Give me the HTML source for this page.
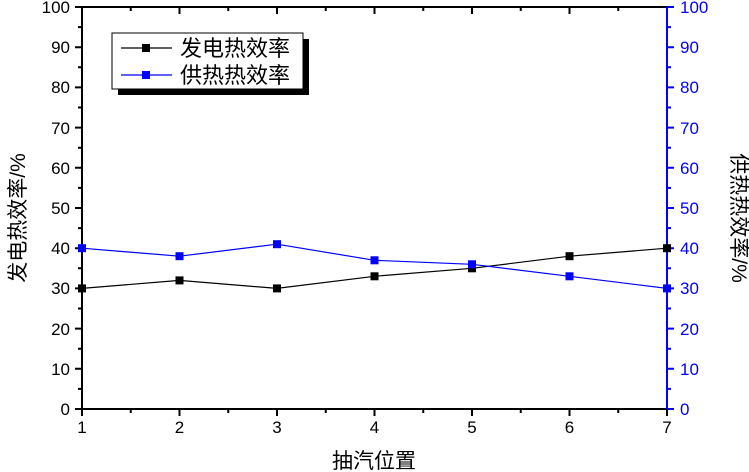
<!DOCTYPE html>
<html><head><meta charset="utf-8"><style>body{margin:0;background:#fff}svg{display:block}text{font-family:"Liberation Sans",Arial,sans-serif}.c{font-family:"Liberation Sans","Noto Sans CJK SC",sans-serif}</style></head><body>
<svg width="749" height="472" xmlns="http://www.w3.org/2000/svg">
<g stroke-width="2" fill="none">
<path stroke="#000" d="M82 7V409M82 7H667M82 409H667
M75 409H82M75 368.8H82M75 328.6H82M75 288.4H82M75 248.2H82M75 208H82M75 167.8H82M75 127.6H82M75 87.4H82M75 47.2H82M75 7H82
M78 388.9H82M78 348.7H82M78 308.5H82M78 268.3H82M78 228.1H82M78 187.9H82M78 147.7H82M78 107.5H82M78 67.3H82M78 27.1H82
M82 409V416M179.5 409V416M277 409V416M374.5 409V416M472 409V416M569.5 409V416M667 409V416
M130.75 409V413M228.25 409V413M325.75 409V413M423.25 409V413M520.75 409V413M618.25 409V413
M179.5 7V14M277 7V14M374.5 7V14M472 7V14M569.5 7V14
M130.75 7V11M228.25 7V11M325.75 7V11M423.25 7V11M520.75 7V11M618.25 7V11"/>
<path stroke="#00f" d="M667 7V409
M667 409H674M667 368.8H674M667 328.6H674M667 288.4H674M667 248.2H674M667 208H674M667 167.8H674M667 127.6H674M667 87.4H674M667 47.2H674M667 7H674
M667 388.9H671M667 348.7H671M667 308.5H671M667 268.3H671M667 228.1H671M667 187.9H671M667 147.7H671M667 107.5H671M667 67.3H671M667 27.1H671"/>
</g>
<g font-size="17" text-anchor="end">
<text x="70" y="415">0</text><text x="70" y="375">10</text><text x="70" y="335">20</text><text x="70" y="294">30</text><text x="70" y="254">40</text><text x="70" y="214">50</text><text x="70" y="174">60</text><text x="70" y="134">70</text><text x="70" y="93">80</text><text x="70" y="53">90</text><text x="70" y="13">100</text>
</g>
<g font-size="17" fill="#00f">
<text x="680" y="415">0</text><text x="680" y="375">10</text><text x="680" y="335">20</text><text x="680" y="294">30</text><text x="680" y="254">40</text><text x="680" y="214">50</text><text x="680" y="174">60</text><text x="680" y="134">70</text><text x="680" y="93">80</text><text x="680" y="53">90</text><text x="680" y="13">100</text>
</g>
<g font-size="17" text-anchor="middle">
<text x="82" y="433">1</text><text x="179.5" y="433">2</text><text x="277" y="433">3</text><text x="374.5" y="433">4</text><text x="472" y="433">5</text><text x="569.5" y="433">6</text><text x="667" y="433">7</text>
</g>
<polyline points="82,288.4 179.5,280.4 277,288.4 374.5,276.3 472,268.3 569.5,256.2 667,248.2" fill="none" stroke="#000" stroke-width="1.2"/>
<g fill="#000"><rect x="78" y="284.4" width="8" height="8"/><rect x="175.5" y="276.4" width="8" height="8"/><rect x="273" y="284.4" width="8" height="8"/><rect x="370.5" y="272.3" width="8" height="8"/><rect x="468" y="264.3" width="8" height="8"/><rect x="565.5" y="252.2" width="8" height="8"/><rect x="663" y="244.2" width="8" height="8"/></g>
<polyline points="82,248.2 179.5,256.2 277,244.2 374.5,260.3 472,264.3 569.5,276.3 667,288.4" fill="none" stroke="#00f" stroke-width="1.2"/>
<g fill="#00f"><rect x="78" y="244.2" width="8" height="8"/><rect x="175.5" y="252.2" width="8" height="8"/><rect x="273" y="240.2" width="8" height="8"/><rect x="370.5" y="256.3" width="8" height="8"/><rect x="468" y="260.3" width="8" height="8"/><rect x="565.5" y="272.3" width="8" height="8"/><rect x="663" y="284.4" width="8" height="8"/></g>
<rect x="118" y="39" width="191" height="56" fill="#000"/>
<rect x="112" y="33" width="191" height="56" fill="#fff" stroke="#000" stroke-width="1"/>
<line x1="121" y1="48" x2="172" y2="48" stroke="#000" stroke-width="1.2"/><rect x="142" y="44" width="8" height="8" fill="#000"/>
<line x1="121" y1="75" x2="172" y2="75" stroke="#00f" stroke-width="1.2"/><rect x="142" y="71" width="8" height="8" fill="#00f"/>
<text class="c" x="180" y="56" font-size="22">发电热效率</text>
<text class="c" x="180" y="83" font-size="22">供热热效率</text>
<text class="c" x="374" y="468" font-size="21" text-anchor="middle">抽汽位置</text>
<text class="c" transform="translate(25,218) rotate(-90)" font-size="21" text-anchor="middle">发电热效率/%</text>
<text class="c" transform="translate(732,218) rotate(90)" font-size="21" text-anchor="middle">供热热效率/%</text>
</svg></body></html>
